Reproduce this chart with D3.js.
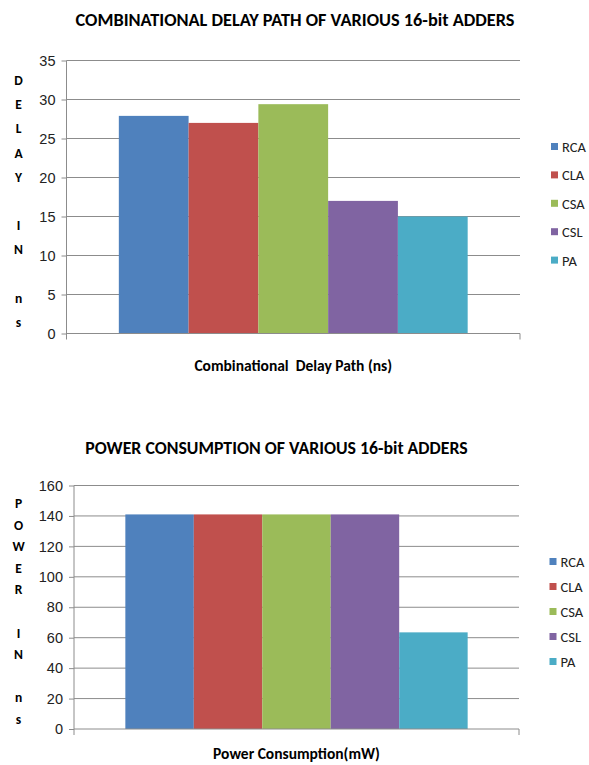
<!DOCTYPE html>
<html lang="en">
<head>
<meta charset="UTF-8">
<title>16-bit adders</title>
<script src="https://d3js.org/d3.v7.min.js"></script>
<style>
  body { margin: 0; background: #fff; }
  svg { display: block; font-family: Carlito, "Liberation Sans Narrow", "Open Sans", sans-serif; }
</style>
</head>
<body>
<svg id="chart" width="589" height="765"></svg>
<script>
// series shared by both charts
const adders = ["RCA", "CLA", "CSA", "CSL", "PA"];
const colors = ["#4f81bd", "#c0504d", "#9bbb59", "#8064a2", "#4bacc6"];

// chart 1: delay
const delayValues = [27.9, 27.0, 29.4, 17.0, 15.0];
const delayTicks = [0, 5, 10, 15, 20, 25, 30, 35];
const delayTitle = "COMBINATIONAL DELAY PATH OF VARIOUS 16-bit ADDERS";
const delayCategory = "Combinational\u00a0 Delay Path (ns)";
const delayAxisLetters = ["D", "E", "L", "A", "Y", "", "I", "N", "", "n", "s"];

// chart 2: power
const powerValues = [141, 141, 141, 141, 63.5];
const powerTicks = [0, 20, 40, 60, 80, 100, 120, 140, 160];
const powerTitle = "POWER CONSUMPTION OF VARIOUS 16-bit ADDERS";
const powerCategory = "Power Consumption(mW)";
const powerAxisLetters = ["P", "O", "W", "E", "R", "", "I", "N", "", "n", "s"];

const svg = d3.select("#chart");

function drawChart(opt) {
  const g = svg.append("g");

  const x = d3.scaleBand()
    .domain([opt.category])
    .range([opt.left, opt.right])
    .paddingInner(0)
    .paddingOuter(0.15);
  const xs = d3.scaleBand()
    .domain(adders)
    .range([0, x.bandwidth()]);
  const y = d3.scaleLinear()
    .domain([0, d3.max(opt.ticks)])
    .range([opt.bottom, opt.top]);

  // title
  g.append("text")
    .attr("x", opt.titleX)
    .attr("y", opt.titleY)
    .attr("text-anchor", "middle")
    .attr("font-size", opt.titleSize)
    .attr("font-weight", "bold")
    .attr("fill", "#000")
    .text(opt.title);

  // gridlines + y axis
  const yAxis = g.append("g")
    .attr("transform", `translate(${opt.left},0)`)
    .call(d3.axisLeft(y).tickValues(opt.ticks).tickSize(5).tickPadding(6)
      .tickFormat(d3.format("d")));
  yAxis.select(".domain").remove();
  yAxis.selectAll(".tick line").attr("stroke", "#8c8c8c");
  yAxis.selectAll(".tick text")
    .attr("font-size", 14.5)
    .attr("font-family", "inherit")
    .attr("fill", "#222");

  g.append("g")
    .selectAll("line")
    .data(opt.ticks.filter(t => t > 0))
    .join("line")
    .attr("x1", opt.left).attr("x2", opt.right)
    .attr("y1", d => y(d)).attr("y2", d => y(d))
    .attr("stroke", "#8c8c8c");

  // bars
  g.append("g")
    .selectAll("rect")
    .data(opt.values)
    .join("rect")
    .attr("x", (d, i) => x(opt.category) + xs(adders[i]))
    .attr("y", d => y(d))
    .attr("width", xs.bandwidth())
    .attr("height", d => y(0) - y(d))
    .attr("fill", (d, i) => colors[i]);

  // axis lines
  g.append("line")
    .attr("x1", opt.left).attr("x2", opt.left)
    .attr("y1", y(d3.max(opt.ticks))).attr("y2", opt.bottom + 6)
    .attr("stroke", "#8c8c8c");
  g.append("line")
    .attr("x1", opt.left).attr("x2", opt.right)
    .attr("y1", opt.bottom).attr("y2", opt.bottom)
    .attr("stroke", "#8c8c8c");
  g.append("line")
    .attr("x1", opt.right).attr("x2", opt.right)
    .attr("y1", opt.bottom).attr("y2", opt.bottom + 6)
    .attr("stroke", "#8c8c8c");

  // category label
  g.append("text")
    .attr("x", x(opt.category) + x.bandwidth() / 2)
    .attr("y", opt.catY)
    .attr("text-anchor", "middle")
    .attr("font-size", 15.5)
    .attr("font-weight", "bold")
    .attr("fill", "#000")
    .text(opt.category);

  // vertical axis title, one letter per line
  g.append("g")
    .selectAll("text")
    .data(opt.letters)
    .join("text")
    .attr("x", 18.5)
    .attr("y", (d, i) => opt.lettersY + i * opt.letterStep)
    .attr("text-anchor", "middle")
    .attr("font-size", 13.5)
    .attr("font-weight", "bold")
    .attr("fill", "#000")
    .text(d => d);

  // legend
  const leg = g.append("g")
    .selectAll("g")
    .data(adders)
    .join("g")
    .attr("transform", (d, i) => `translate(${opt.legX},${opt.legY + i * opt.legStep})`);
  leg.append("rect")
    .attr("x", 0).attr("y", -4)
    .attr("width", 7).attr("height", 7)
    .attr("fill", (d, i) => colors[i]);
  leg.append("text")
    .attr("x", 11).attr("y", 5)
    .attr("font-size", 14.5)
    .attr("fill", "#222")
    .text(d => d);
}

drawChart({
  title: delayTitle, titleX: 295, titleY: 26, titleSize: 18.3,
  category: delayCategory, catY: 371,
  values: delayValues, ticks: delayTicks,
  left: 66.5, right: 520, top: 60.5, bottom: 333.5,
  letters: delayAxisLetters, lettersY: 85, letterStep: 24.2,
  legX: 551, legY: 147, legStep: 28.4
});

drawChart({
  title: powerTitle, titleX: 276.5, titleY: 454, titleSize: 17.8,
  category: powerCategory, catY: 759,
  values: powerValues, ticks: powerTicks,
  left: 74, right: 519, top: 485.5, bottom: 729,
  letters: powerAxisLetters, lettersY: 508, letterStep: 21.6,
  legX: 549.5, legY: 562, legStep: 25
});
</script>
</body>
</html>
